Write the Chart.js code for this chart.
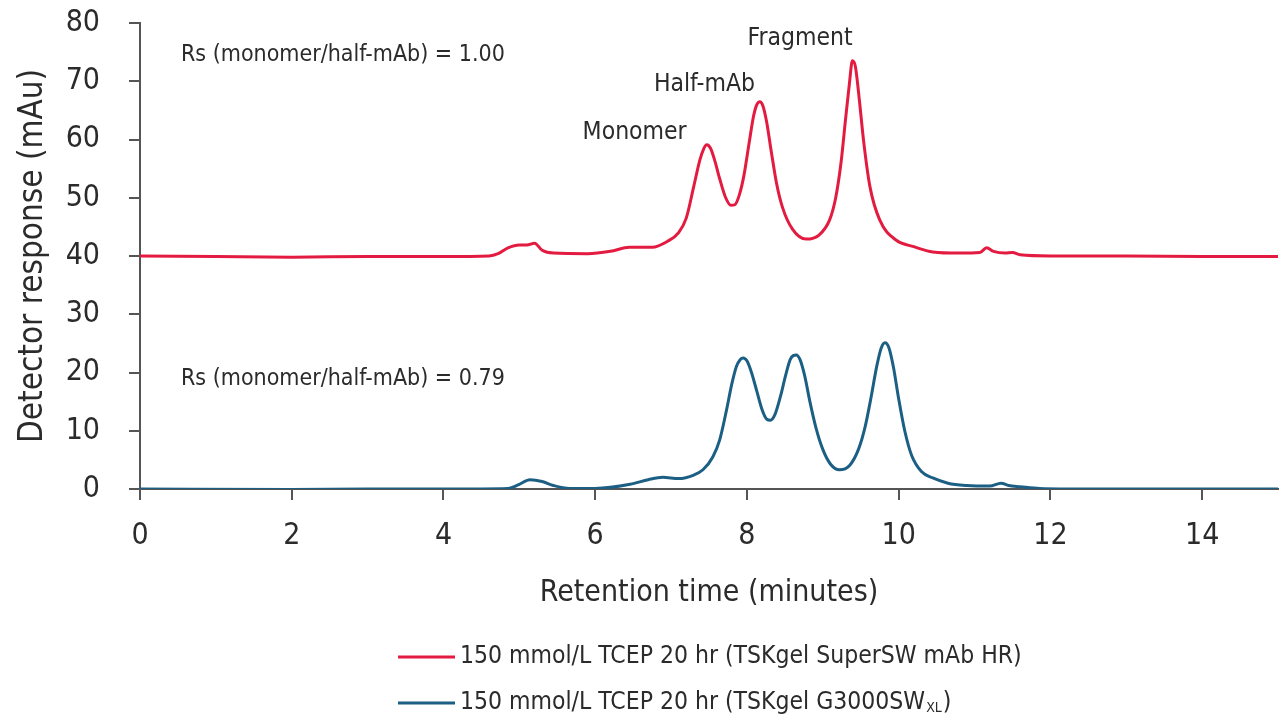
<!DOCTYPE html>
<html>
<head>
<meta charset="utf-8">
<script src="https://cdn.jsdelivr.net/npm/chart.js@4.4.1/dist/chart.umd.min.js"></script>
<style>
  html, body { margin: 0; padding: 0; background: #fff; }
  #wrap { width: 1280px; height: 718px; position: relative; }
</style>
</head>
<body>
<div id="wrap"><canvas id="chart"></canvas></div>
<script>
// === data ===

// retention time (minutes) / response (mAu) for the SuperSW mAb HR run
const redTime = [0, 1, 2, 3, 4, 4.6, 4.72, 4.85, 5.0, 5.1, 5.2, 5.3, 5.45, 5.9, 6.2, 6.45, 6.75, 6.95,
  7.1, 7.2, 7.3, 7.38, 7.43, 7.47, 7.52, 7.58, 7.64, 7.72, 7.79, 7.84, 7.9, 7.96, 8.03, 8.09, 8.13, 8.17,
  8.21, 8.26, 8.32, 8.39, 8.47, 8.6, 8.78, 8.95, 9.09, 9.17, 9.24, 9.3, 9.35, 9.39, 9.43, 9.48, 9.54,
  9.62, 9.75, 9.97, 10.2, 10.45, 10.8, 11.07, 11.16, 11.25, 11.4, 11.5, 11.6, 12, 13, 14, 15];
const redValue = [40.0, 39.9, 39.8, 39.9, 39.9, 40.0, 40.4, 41.4, 41.9, 41.9, 42.2, 41.0, 40.5, 40.4, 40.8, 41.5, 41.5, 42.5,
  44.0, 46.5, 52.0, 56.5, 58.4, 59.1, 58.5, 56.2, 53.3, 50.0, 48.7, 48.8, 50.5, 53.8, 59.5, 64.2, 66.0, 66.5,
  65.8, 63.0, 58.0, 52.5, 48.3, 44.6, 42.9, 43.6, 46.2, 50.0, 56.0, 63.5, 69.5, 73.5, 72.5, 67.0, 59.5,
  52.0, 46.2, 42.7, 41.6, 40.7, 40.5, 40.6, 41.4, 40.8, 40.5, 40.6, 40.2, 40.0, 40.0, 39.9, 39.9];

// same sample on the G3000SWXL column
const blueTime = [0, 2, 3, 4, 4.85, 5.0, 5.14, 5.3, 5.45, 5.66, 6.0, 6.46, 6.7, 6.89, 7.1, 7.3, 7.42,
  7.55, 7.64, 7.73, 7.8, 7.86, 7.91, 7.95, 8.0, 8.06, 8.13, 8.2, 8.26, 8.31, 8.37, 8.44, 8.51, 8.57,
  8.61, 8.65, 8.7, 8.76, 8.83, 8.91, 9.0, 9.1, 9.22, 9.35, 9.47, 9.56, 9.64, 9.71, 9.77, 9.82, 9.87,
  9.93, 10.0, 10.08, 10.17, 10.3, 10.45, 10.65, 10.9, 11.2, 11.35, 11.45, 11.6, 11.86, 12.5, 14, 15];
const blueValue = [0, -0.1, 0, 0, 0.1, 0.8, 1.6, 1.3, 0.6, 0.1, 0.1, 0.8, 1.6, 2.0, 1.8, 2.4, 3.3,
  5.5, 8.4, 13.5, 18.0, 21.0, 22.2, 22.5, 22.0, 20.0, 16.8, 13.6, 12.0, 11.8, 12.8, 15.8, 19.5, 22.2,
  22.9, 23.0, 22.2, 19.5, 15.0, 10.5, 6.8, 4.3, 3.3, 4.0, 6.8, 10.8, 16.0, 21.0, 24.2, 25.1, 24.3,
  21.0, 15.5, 10.0, 5.8, 3.0, 1.9, 1.0, 0.6, 0.5, 1.0, 0.6, 0.4, 0.1, 0, 0, 0];

const seriesLabels = [
  "150 mmol/L TCEP 20 hr (TSKgel SuperSW mAb HR)",
  "150 mmol/L TCEP 20 hr (TSKgel G3000SW",
];
const seriesSub = ["", "XL"];
const seriesTail = ["", ")"];

const xTicks = [0, 2, 4, 6, 8, 10, 12, 14];
const yTicks = [0, 10, 20, 30, 40, 50, 60, 70, 80];

// peak names and resolution notes, placed in data coordinates
const notes = [
  { text: "Rs (monomer/half-mAb) = 1.00", x: 0.54, y: 74.5, align: "left", size: 23 },
  { text: "Rs (monomer/half-mAb) = 0.79", x: 0.54, y: 18.9, align: "left", size: 23 },
  { text: "Monomer", x: 6.52, y: 61.1, align: "center", size: 24.5 },
  { text: "Half-mAb", x: 7.44, y: 69.4, align: "center", size: 24.5 },
  { text: "Fragment", x: 8.70, y: 77.4, align: "center", size: 24.5 },
];

const RED = "#e31b40";
const BLUE = "#1c5f84";
const INK = "#2b2b2b";
const AXIS = "#555555";
const FONT = "'Liberation Sans Narrow', 'DejaVu Sans Condensed', 'Roboto Condensed', sans-serif";

function toPoints(xs, ys) {
  return xs.map((x, i) => ({ x, y: ys[i] }));
}

// text notes drawn on top of the plot
const notesPlugin = {
  id: "notes",
  afterDatasetsDraw(chart) {
    const { ctx, scales } = chart;
    ctx.save();
    ctx.fillStyle = INK;
    ctx.textBaseline = "middle";
    notes.forEach(n => {
      ctx.font = `${n.size}px ${FONT}`;
      ctx.textAlign = n.align;
      ctx.fillText(n.text, scales.x.getPixelForValue(n.x), scales.y.getPixelForValue(n.y));
    });
    ctx.restore();
  },
};

// legend below the axis, with the XL subscript
const legendPlugin = {
  id: "subLegend",
  afterDraw(chart) {
    const { ctx } = chart;
    const colors = [RED, BLUE];
    const rowY = [657, 703];
    ctx.save();
    seriesLabels.forEach((label, i) => {
      const y = rowY[i];
      ctx.strokeStyle = colors[i];
      ctx.lineWidth = 3;
      ctx.beginPath();
      ctx.moveTo(398, y);
      ctx.lineTo(455, y);
      ctx.stroke();

      ctx.fillStyle = INK;
      ctx.textAlign = "left";
      ctx.textBaseline = "middle";
      ctx.font = `24.5px ${FONT}`;
      let x = 460;
      ctx.fillText(label, x, y);
      x += ctx.measureText(label).width;
      if (seriesSub[i]) {
        ctx.font = `14px ${FONT}`;
        ctx.fillText(seriesSub[i], x + 1, y + 5);
        x += ctx.measureText(seriesSub[i]).width + 2;
        ctx.font = `24.5px ${FONT}`;
        ctx.fillText(seriesTail[i], x, y);
      }
    });
    ctx.restore();
  },
};

const ctx = document.getElementById("chart");
new Chart(ctx, {
  type: "line",
  data: {
    datasets: [
      {
        label: seriesLabels[0],
        data: toPoints(redTime, redValue),
        borderColor: RED,
        borderWidth: 3,
        pointRadius: 0,
        cubicInterpolationMode: "monotone",
      },
      {
        label: seriesLabels[1] + seriesSub[1] + seriesTail[1],
        data: toPoints(blueTime, blueValue),
        borderColor: BLUE,
        borderWidth: 3,
        pointRadius: 0,
        cubicInterpolationMode: "monotone",
      },
    ],
  },
  options: {
    responsive: true,
    maintainAspectRatio: false,
    animation: false,
    layout: { padding: { top: 23, right: 2, left: 0, bottom: 104 } },
    plugins: {
      legend: { display: false },
      tooltip: { enabled: false },
    },
    scales: {
      x: {
        type: "linear",
        min: 0,
        max: 15,
        afterFit(scale) { scale.height = 125; scale.paddingLeft = 0; scale.paddingRight = 0; },
        afterBuildTicks(scale) { scale.ticks = xTicks.map(v => ({ value: v })); },
        border: { color: AXIS, width: 2 },
        grid: { drawOnChartArea: false, color: AXIS, lineWidth: 2, tickLength: 11 },
        ticks: { color: INK, font: { family: FONT, size: 30 }, padding: 18 },
        title: {
          display: true,
          text: "Retention time (minutes)",
          color: INK,
          font: { family: FONT, size: 30 },
          padding: { top: 0, bottom: 3 },
        },
      },
      y: {
        min: 0,
        max: 80,
        afterFit(scale) { scale.width = 140; scale.paddingTop = 0; scale.paddingBottom = 0; },
        afterBuildTicks(scale) { scale.ticks = yTicks.map(v => ({ value: v })); },
        border: { color: AXIS, width: 2 },
        grid: { drawOnChartArea: false, color: AXIS, lineWidth: 2, tickLength: 11 },
        ticks: { color: INK, font: { family: FONT, size: 30 }, padding: 29 },
        title: {
          display: true,
          text: "Detector response (mAu)",
          color: INK,
          font: { family: FONT, size: 33 },
          padding: { top: 14, bottom: 0 },
        },
      },
    },
  },
  plugins: [notesPlugin, legendPlugin],
});
</script>
</body>
</html>
